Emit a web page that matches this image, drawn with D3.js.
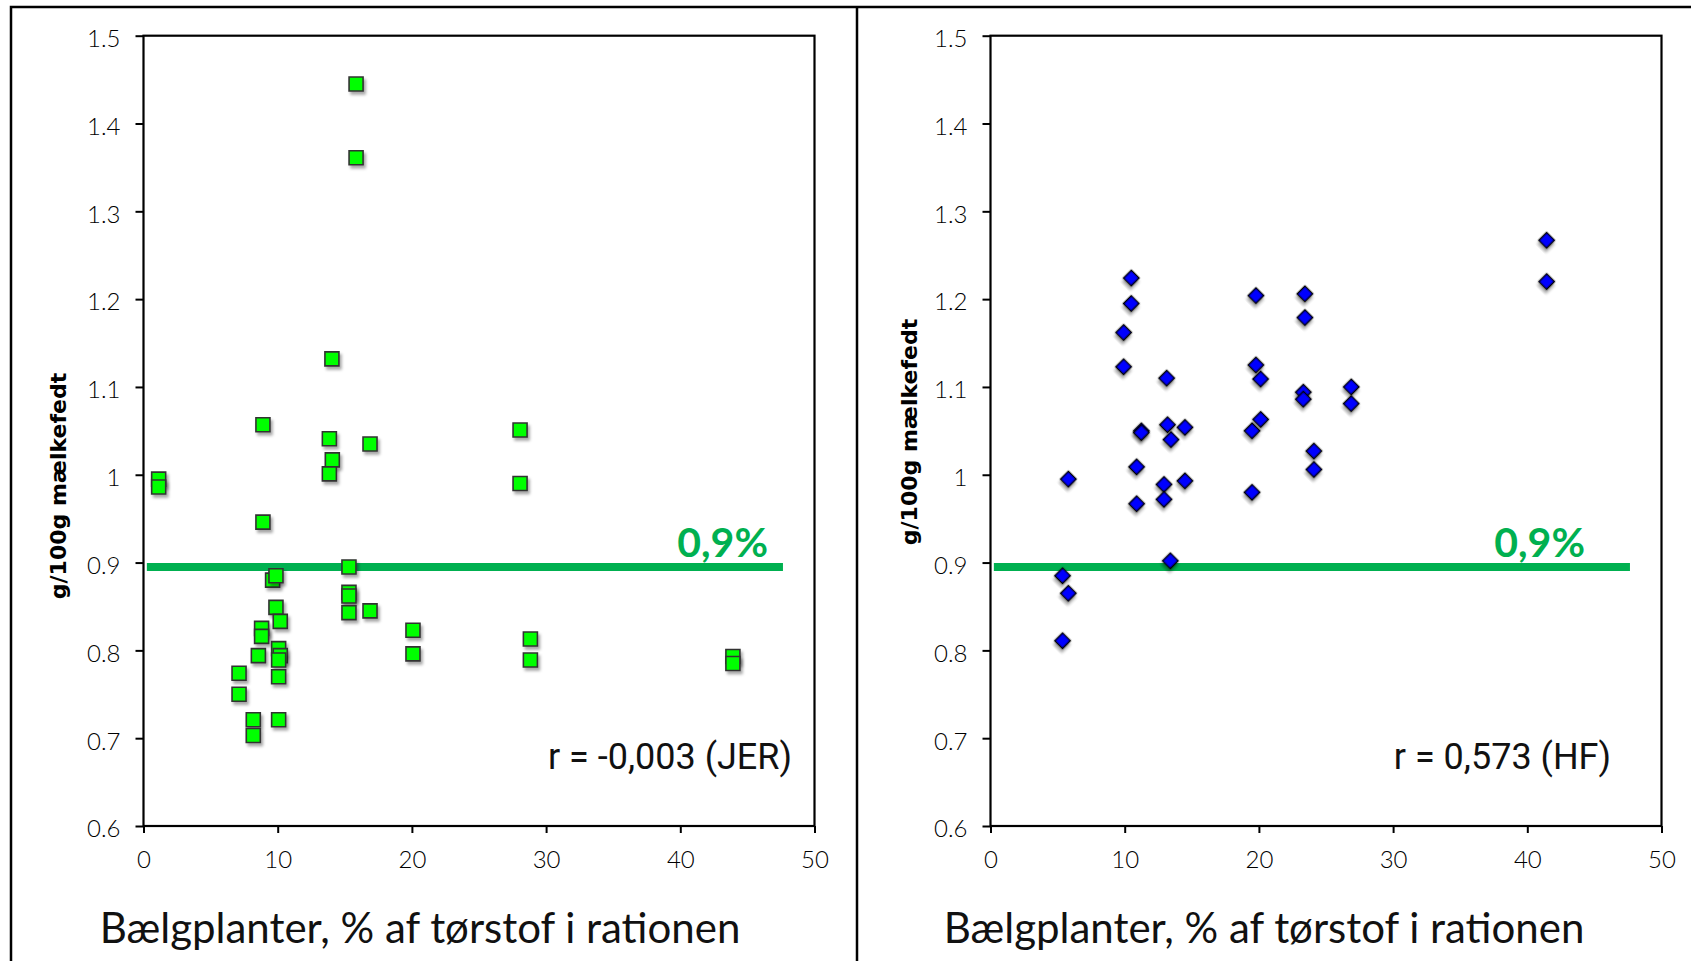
<!DOCTYPE html>
<html>
<head>
<meta charset="utf-8">
<script src="https://cdn.jsdelivr.net/npm/d3@7"></script>
<style>
  body { margin: 0; background: #fff; }
  svg { display: block; }
</style>
</head>
<body>
<script>
// x: baelgplanter % af ts, y: g/100g maelkefedt
const jerX = [15.84, 15.84, 14.04, 8.9, 13.85, 16.88, 14.07, 13.85, 28.06, 28.06,
              1.13, 1.13, 8.9, 15.31, 9.62, 9.87, 15.31, 15.31, 15.31, 16.88,
              9.87, 10.19, 8.8, 8.8, 8.56, 10.07, 10.19, 10.07, 10.07, 7.12,
              7.12, 8.18, 8.18, 10.07, 20.08, 20.08, 28.83, 28.83, 43.92, 43.92];
const jerY = [1.445, 1.361, 1.132, 1.057, 1.041, 1.035, 1.017, 1.001, 1.051, 0.990,
              0.995, 0.986, 0.946, 0.895, 0.880, 0.885, 0.866, 0.862, 0.843, 0.845,
              0.849, 0.833, 0.825, 0.816, 0.794, 0.802, 0.794, 0.789, 0.770, 0.774,
              0.750, 0.721, 0.703, 0.721, 0.823, 0.796, 0.813, 0.789, 0.793, 0.785];

const hfX = [41.44, 41.44, 10.49, 10.49, 9.92, 9.92, 13.13, 11.24, 11.24, 13.19,
             14.49, 13.45, 10.89, 12.93, 14.49, 12.93, 10.89, 19.78, 23.43, 23.43,
             19.78, 20.13, 23.31, 23.31, 20.13, 19.49, 19.49, 26.88, 26.88, 24.1,
             24.1, 5.8, 5.8, 5.37, 5.37, 13.4];
const hfY = [1.267, 1.220, 1.224, 1.195, 1.162, 1.123, 1.110, 1.050, 1.048, 1.057,
             1.054, 1.040, 1.009, 0.989, 0.993, 0.972, 0.967, 1.204, 1.206, 1.179,
             1.125, 1.109, 1.094, 1.086, 1.063, 1.050, 0.980, 1.100, 1.081, 1.027,
             1.006, 0.995, 0.865, 0.885, 0.811, 0.902];

const xTicks = [0, 10, 20, 30, 40, 50];
const yTicks = [0.6, 0.7, 0.8, 0.9, 1.0, 1.1, 1.2, 1.3, 1.4, 1.5];
const yTickLabels = ['0.6', '0.7', '0.8', '0.9', '1', '1.1', '1.2', '1.3', '1.4', '1.5'];

const limitValue = 0.895;        // 0,9% line
const limitExtent = [0.25, 47.65];
const limitLabel = '0,9%';
const xTitle = 'Bælgplanter, % af tørstof i rationen';
const yTitle = 'g/100g mælkefedt';

const W = 1691, H = 961;

const svg = d3.select('body').append('svg')
  .attr('width', W).attr('height', H);

const defs = svg.append('defs');
defs.append('filter').attr('id', 'shadow')
  .attr('x', '-50%').attr('y', '-50%').attr('width', '200%').attr('height', '200%')
  .append('feDropShadow')
  .attr('dx', 2).attr('dy', 3).attr('stdDeviation', 1.6)
  .attr('flood-color', '#000').attr('flood-opacity', 0.35);

// outer frame of the two panels
svg.append('path')
  .attr('d', `M11,${H} V7 H${W} M857,7 V${H}`)
  .attr('fill', 'none').attr('stroke', '#000').attr('stroke-width', 2.5);

const panels = [
  { xs: jerX, ys: jerY, left: 143.5, symbol: d3.symbolSquare, size: 196, rotate: 0, fill: '#00ff00', stroke: '#333',
    rText: 'r = -0,003 (JER)', rEnd: 792, limitEnd: 768, yTitleX: 58, yTitleY: 486, xTitleX: 420 },
  { xs: hfX, ys: hfY, left: 990.5, symbol: d3.symbolSquare, size: 118, rotate: 45, fill: '#0000ff', stroke: '#000',
    rText: 'r = 0,573 (HF)', rEnd: 1611, limitEnd: 1585, yTitleX: 909, yTitleY: 432, xTitleX: 1264 }
];

const plotTop = 35.7, plotBottom = 826, plotW = 671;

panels.forEach(p => {
  const x = d3.scaleLinear().domain([0, 50]).range([p.left, p.left + plotW]);
  const y = d3.scaleLinear().domain([0.6, 1.5]).range([plotBottom, plotTop]);
  const g = svg.append('g');

  // y axis
  const ya = g.append('g')
    .attr('transform', `translate(${p.left},0)`)
    .call(d3.axisLeft(y).tickValues(yTicks).tickSize(8).tickSizeOuter(0).tickPadding(15)
      .tickFormat((d, i) => yTickLabels[i]));
  ya.selectAll('text').attr('dy', '0.45em');

  // x axis
  g.append('g')
    .attr('transform', `translate(0,${plotBottom})`)
    .call(d3.axisBottom(x).tickValues(xTicks).tickSize(7).tickSizeOuter(0).tickPadding(18));

  g.selectAll('.tick line').attr('stroke', '#000').attr('stroke-width', 2);
  g.selectAll('.domain').remove();
  g.selectAll('.tick text')
    .attr('fill', '#000')
    .style('font-family', 'Lato, "Open Sans", sans-serif')
    .style('font-weight', 300)
    .style('font-size', '24px');

  // plot frame
  g.append('rect')
    .attr('x', x(0)).attr('y', y(1.5))
    .attr('width', x(50) - x(0)).attr('height', y(0.6) - y(1.5))
    .attr('fill', 'none').attr('stroke', '#000').attr('stroke-width', 2.2);

  // 0,9% reference line
  g.append('path')
    .datum(limitExtent.map(v => [v, limitValue]))
    .attr('d', d3.line().x(d => x(d[0])).y(d => y(d[1])))
    .attr('stroke', '#00b050').attr('stroke-width', 8).attr('fill', 'none');

  g.append('text')
    .attr('x', p.limitEnd).attr('y', 557)
    .attr('text-anchor', 'end')
    .attr('fill', '#00b050')
    .style('font-family', 'Lato, sans-serif')
    .style('font-weight', 700)
    .style('font-size', '41px')
    .text(limitLabel);

  // points
  const pts = d3.range(p.xs.length).map(i => ({ x: p.xs[i], y: p.ys[i] }));
  g.append('g').selectAll('path')
    .data(pts)
    .join('path')
    .attr('transform', d => `translate(${x(d.x)},${y(d.y)}) rotate(${p.rotate})`)
    .attr('d', d3.symbol().type(p.symbol).size(p.size))
    .attr('fill', p.fill)
    .attr('stroke', p.stroke)
    .attr('stroke-width', 1.6)
    .attr('filter', 'url(#shadow)');

  // correlation
  g.append('text')
    .attr('x', p.rEnd).attr('y', 769)
    .attr('text-anchor', 'end')
    .attr('fill', '#111')
    .style('font-family', 'Roboto, sans-serif')
    .style('font-size', '36px')
    .text(p.rText);

  // axis titles
  g.append('text')
    .attr('transform', `translate(${p.yTitleX},${p.yTitleY}) rotate(-90)`)
    .attr('text-anchor', 'middle')
    .attr('dy', '0.35em')
    .attr('fill', '#000')
    .style('font-family', '"DejaVu Sans", sans-serif')
    .style('font-weight', 700)
    .style('font-size', '22px')
    .text(yTitle);

  g.append('text')
    .attr('x', p.xTitleX).attr('y', 943)
    .attr('text-anchor', 'middle')
    .attr('fill', '#111')
    .style('font-family', 'Lato, sans-serif')
    .style('font-size', '42px')
    .text(xTitle);
});
</script>
</body>
</html>
